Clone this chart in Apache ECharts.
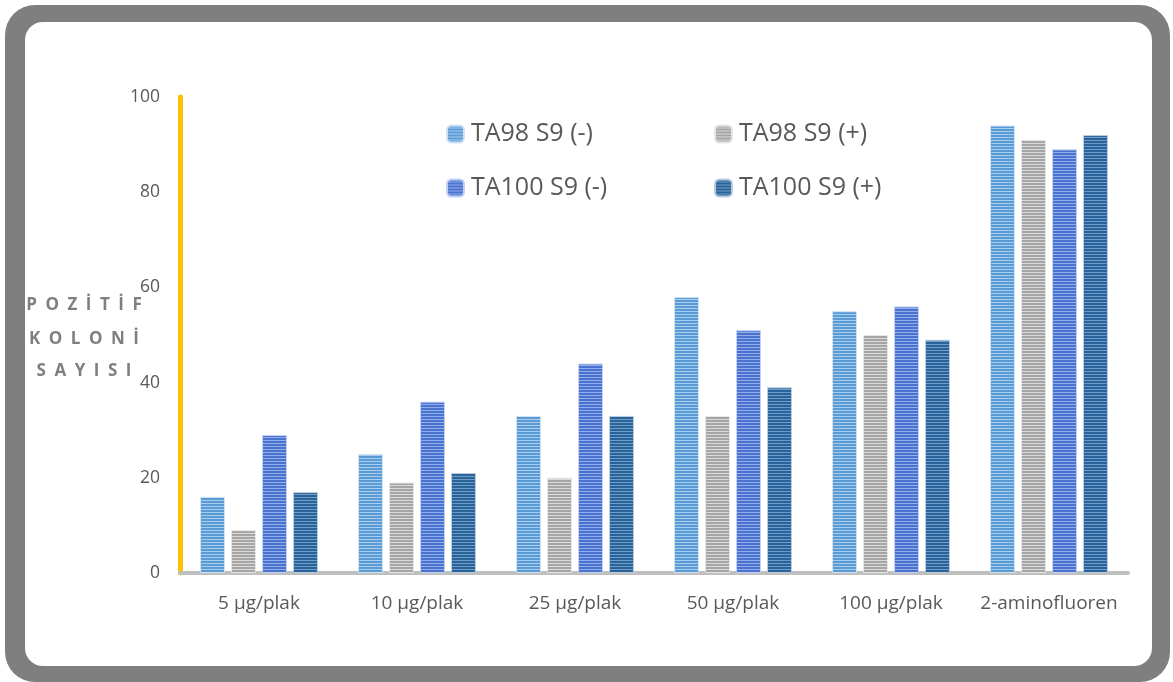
<!DOCTYPE html>
<html>
<head>
<meta charset="utf-8">
<script src="https://cdn.jsdelivr.net/npm/echarts@6/dist/echarts.min.js"></script>
<style>
  html, body { margin: 0; padding: 0; background: #ffffff; }
  #chart { width: 1173px; height: 682px; }
</style>
</head>
<body>
<div id="chart"></div>
<script>
// Doses tested and colony counts per strain / S9 condition
const categories = ['5 µg/plak', '10 µg/plak', '25 µg/plak', '50 µg/plak', '100 µg/plak', '2-aminofluoren'];
const seriesNames = ['TA98 S9 (-)', 'TA98 S9 (+)', 'TA100 S9 (-)', 'TA100 S9 (+)'];
const ta98Minus  = [16, 25, 33, 58, 55, 94];
const ta98Plus   = [9, 19, 20, 33, 50, 91];
const ta100Minus = [29, 36, 44, 51, 56, 89];
const ta100Plus  = [17, 21, 33, 39, 49, 92];
const yTicks = [0, 20, 40, 60, 80, 100];
const yTitleLines = ['POZİTİF', 'KOLONİ', 'SAYISI'];

// base / stripe colours for each series
const palette = [
  { base: '#5b9bd5', light: '#a9cdee', edge: '#cfe3f6' },
  { base: '#a5a5a5', light: '#dadada', edge: '#e6e6e6' },
  { base: '#4a73d0', light: '#93acea', edge: '#c3d1f4' },
  { base: '#2a6399', light: '#6f9bc7', edge: '#b9cde2' }
];

// horizontal-stripe fill
function stripes(base, light) {
  const c = document.createElement('canvas');
  c.width = 8; c.height = 3;
  const g = c.getContext('2d');
  g.fillStyle = base; g.fillRect(0, 0, 8, 2);
  g.fillStyle = light; g.fillRect(0, 2, 8, 1);
  return { image: c, repeat: 'repeat' };
}

// spaced-out capitals for the axis title
function spaced(s) { return s.split('').join('\u2002'); }

const values = [ta98Minus, ta98Plus, ta100Minus, ta100Plus];
const series = seriesNames.map((name, i) => ({
  name: name,
  type: 'bar',
  data: values[i],
  barWidth: 25,
  barGap: '24%',
  itemStyle: {
    color: stripes(palette[i].base, palette[i].light),
    borderColor: palette[i].edge,
    borderWidth: 1
  }
}));

// legend cells laid out as a 2x2 grid
const legendPos = [[446, 121], [714, 121], [446, 175], [714, 175]];
const legends = seriesNames.map((name, i) => ({
  data: [name],
  left: legendPos[i][0],
  top: legendPos[i][1],
  itemWidth: 17,
  itemHeight: 17,
  itemGap: 0,
  padding: 0,
  selectedMode: false,
  textStyle: { fontSize: 25, lineHeight: 26, color: '#595959', fontFamily: 'Open Sans', padding: [0, 0, 0, 2] }
}));

const titleY = [305, 339, 371];

const chart = echarts.init(document.getElementById('chart'), null, { renderer: 'canvas' });
chart.setOption({
  animation: false,
  backgroundColor: '#ffffff',
  graphic: [
    { type: 'rect', z: -10, shape: { x: 5, y: 5, width: 1165, height: 677, r: 30 }, style: { fill: '#7f7f7f' } },
    { type: 'rect', z: -9, shape: { x: 25, y: 22, width: 1127, height: 644, r: 18 }, style: { fill: '#ffffff' } }
  ].concat(yTitleLines.map((t, k) => ({
    type: 'text',
    z: 10,
    x: 84,
    y: titleY[k],
    style: {
      text: spaced(t),
      align: 'center',
      verticalAlign: 'middle',
      fill: '#7f7f7f',
      font: 'bold 17px "Open Sans"'
    }
  }))),
  legend: legends,
  grid: { left: 180, right: 45, top: 97, bottom: 109 },
  xAxis: {
    type: 'category',
    data: categories,
    axisLine: { lineStyle: { color: '#bfbfbf', width: 4 } },
    axisTick: { show: false },
    axisLabel: { interval: 0, color: '#595959', fontSize: 19, fontFamily: 'Open Sans', margin: 21 }
  },
  yAxis: {
    type: 'value',
    min: yTicks[0],
    max: yTicks[yTicks.length - 1],
    interval: 20,
    axisLine: { show: true, lineStyle: { color: '#ffc000', width: 5 } },
    axisTick: { show: false },
    splitLine: { show: false },
    axisLabel: { color: '#595959', fontSize: 17.5, fontFamily: 'Open Sans', margin: 20 }
  },
  series: series
});
</script>
</body>
</html>
